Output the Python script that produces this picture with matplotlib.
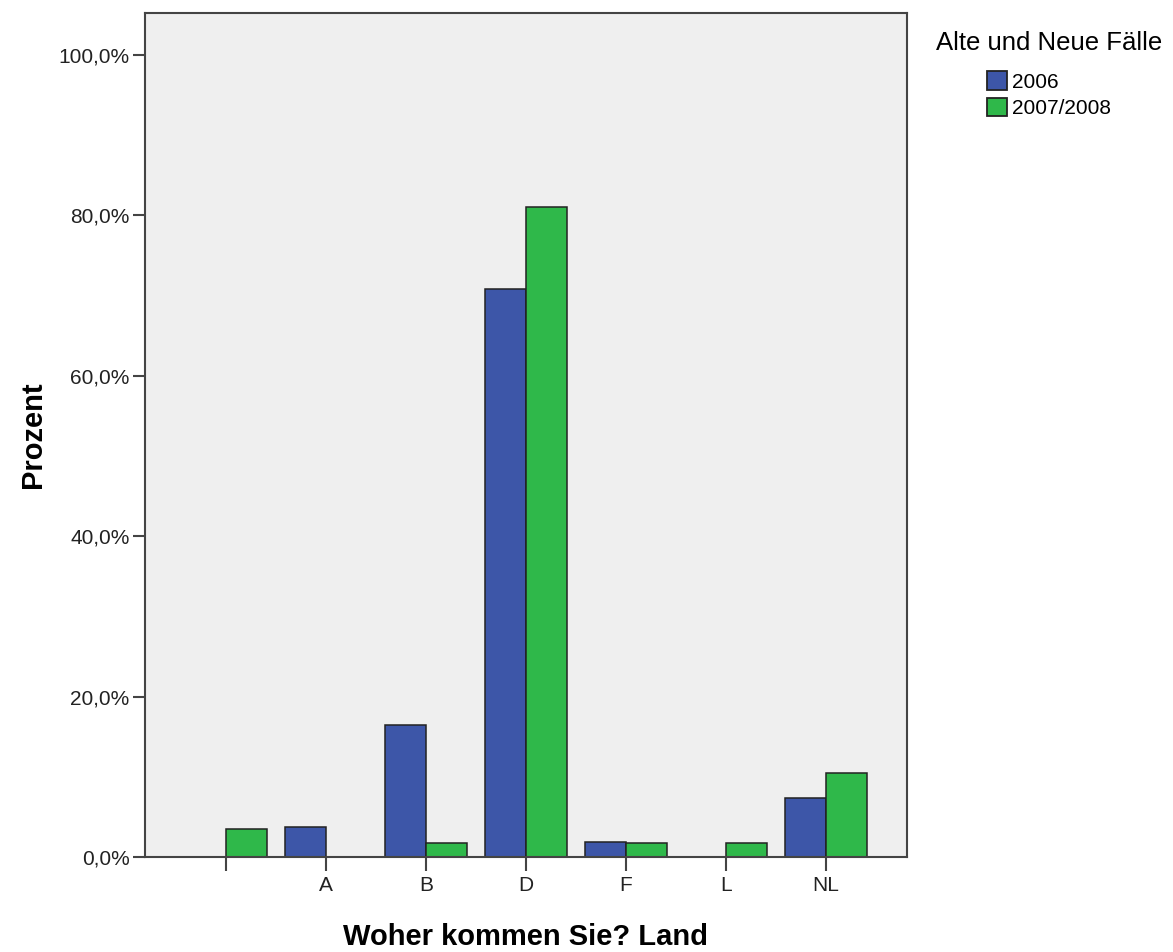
import matplotlib
matplotlib.use('Agg')
import matplotlib.pyplot as plt
from matplotlib.patches import Patch
import numpy as np

plt.rcParams['font.family'] = ['Liberation Sans', 'DejaVu Sans']

laender = ['', 'A', 'B', 'D', 'F', 'L', 'NL']
werte_2006 = [0.0, 3.7, 16.4, 70.8, 1.9, 0.0, 7.35]
werte_2007 = [3.5, 0.0, 1.75, 81.0, 1.8, 1.8, 10.5]
serien = ['2006', '2007/2008']
y_ticks = [0, 20, 40, 60, 80, 100]
y_labels = ['0,0%', '20,0%', '40,0%', '60,0%', '80,0%', '100,0%']

blau = '#3d56a8'
gruen = '#2fb84a'

fig = plt.figure(figsize=(11.73, 9.52), dpi=100)
ax = fig.add_axes([0.1236, 0.0998, 0.6496, 0.8866])
ax.set_facecolor('#efefef')

x = np.arange(len(laender))
w = 0.41
ax.bar(x - w / 2, werte_2006, w, color=blau, edgecolor='#222222', linewidth=1.1)
ax.bar(x + w / 2, werte_2007, w, color=gruen, edgecolor='#222222', linewidth=1.1)

ax.set_xlim(-0.81, len(laender) - 1 + 0.81)
ax.set_ylim(0, 105.2)
ax.set_xticks(x)
ax.set_xticklabels(laender, fontsize=15, color='#222222')
ax.set_yticks(y_ticks)
ax.set_yticklabels(y_labels, fontsize=15, color='#222222')
ax.tick_params(axis='x', length=10, width=1.5, color='#444444', pad=4)
ax.tick_params(axis='y', length=9, width=1.5, color='#444444', pad=2)

for s in ax.spines.values():
    s.set_color('#444444')
    s.set_linewidth(1.5)

ax.set_xlabel('Woher kommen Sie? Land', fontsize=21, fontweight='bold',
              labelpad=20)
ax.set_ylabel('Prozent', fontsize=21, fontweight='bold', labelpad=8)

handles = [Patch(facecolor=blau, edgecolor='#222222', linewidth=1.3),
           Patch(facecolor=gruen, edgecolor='#222222', linewidth=1.3)]
leg = fig.legend(handles, serien, title='Alte und Neue Fälle',
                 loc='upper left', bbox_to_anchor=(0.7905, 0.9765),
                 frameon=False, fontsize=15, title_fontsize=18.5,
                 handlelength=0.97, handleheight=0.97, handletextpad=0.25,
                 labelspacing=0.3, borderaxespad=0)
leg._legend_box.sep = 12

fig.savefig('out.png', dpi=100)
